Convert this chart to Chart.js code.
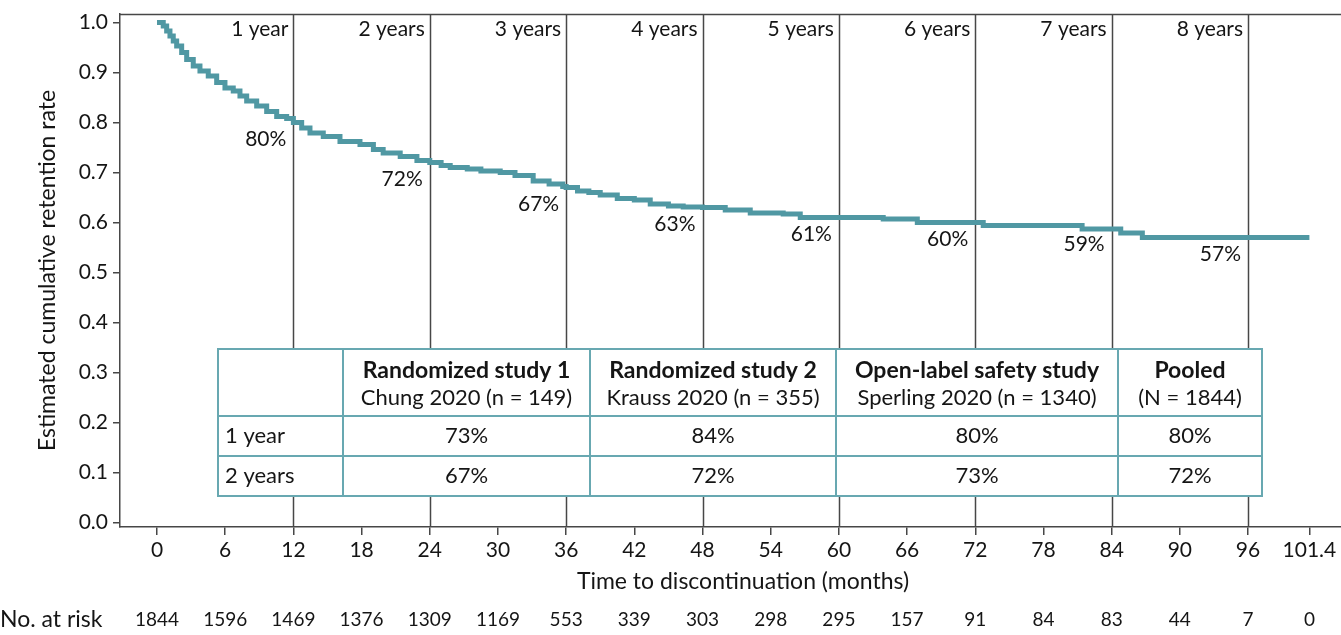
<!DOCTYPE html>
<html>
<head>
<meta charset="utf-8">
<script src="https://cdn.jsdelivr.net/npm/chart.js@4.4.1/dist/chart.umd.min.js"></script>
<style>
  html, body { margin: 0; padding: 0; background: #fff; overflow: hidden; }
  #wrap { width: 1341px; height: 635px; position: relative; overflow: hidden; }
  #km { display: block; }
</style>
</head>
<body>
<div id="wrap"><canvas id="km" width="1366" height="635"></canvas></div>
<script>
// Kaplan-Meier estimate of cumulative retention (pooled, N = 1844)
const months = [0, 0.26, 0.55, 0.85, 1.14, 1.43, 1.73, 2.17, 2.61, 3.19, 3.78, 4.51, 5.25, 5.98, 6.71, 7.30, 7.89,
  8.77, 9.65, 10.53, 11.41, 12.0,
  12.73, 13.46, 14.63, 16.1, 17.86, 19.04, 19.9, 21.4, 22.87, 24.0,
  25.0, 25.8, 27.3, 28.5, 30.2, 31.5, 33.1, 34.5, 35.7, 36.0,
  37.0, 38.0, 39.0, 40.5, 42.0, 43.4, 45.0, 46.3, 48.0,
  50.0, 52.2, 55.1, 56.6, 60.0, 63.9, 66.9, 72.0, 72.7, 81.4, 84.8, 86.7, 96.0, 101.4];
const retention = [1.0, 1.0, 0.993, 0.983, 0.973, 0.963, 0.953, 0.94, 0.926, 0.913, 0.903, 0.893, 0.88, 0.869, 0.863, 0.853, 0.843,
  0.833, 0.822, 0.812, 0.808, 0.80,
  0.789, 0.779, 0.772, 0.762, 0.756, 0.746, 0.739, 0.732, 0.724, 0.72,
  0.714, 0.71, 0.707, 0.703, 0.70, 0.694, 0.683, 0.677, 0.672, 0.67,
  0.663, 0.66, 0.655, 0.648, 0.645, 0.637, 0.633, 0.631, 0.63,
  0.625, 0.619, 0.617, 0.61, 0.61, 0.607, 0.60, 0.60, 0.594, 0.587, 0.579, 0.57, 0.57, 0.57];

// Axis ticks
const xTickValues = [0, 6, 12, 18, 24, 30, 36, 42, 48, 54, 60, 66, 72, 78, 84, 90, 96, 101.4];
const yTickValues = [0, 0.1, 0.2, 0.3, 0.4, 0.5, 0.6, 0.7, 0.8, 0.9, 1.0];

// Number of patients at risk at each x tick
const atRisk = [1844, 1596, 1469, 1376, 1309, 1169, 553, 339, 303, 298, 295, 157, 91, 84, 83, 44, 7, 0];

// Yearly landmarks and the retention estimate at each
const yearMonths = [12, 24, 36, 48, 60, 72, 84, 96];
const yearLabels = ['1 year', '2 years', '3 years', '4 years', '5 years', '6 years', '7 years', '8 years'];
const yearRetentionPct = [80, 72, 67, 63, 61, 60, 59, 57];

// Inset table: retention by study
const studyTitles = ['Randomized study 1', 'Randomized study 2', 'Open-label safety study', 'Pooled'];
const studySubtitles = ['Chung 2020 (n = 149)', 'Krauss 2020 (n = 355)', 'Sperling 2020 (n = 1340)', '(N = 1844)'];
const tableRowLabels = ['1 year', '2 years'];
const oneYearPct = [73, 84, 80, 80];
const twoYearPct = [67, 72, 73, 72];

const FONT = 'Lato, "Open Sans", "DejaVu Sans", sans-serif';
const INK = '#151515';
const AXIS = '#474747';
const CURVE = '#5098a3';
const TABLE_LINE = '#68a8b1';

Chart.defaults.font.family = FONT;
Chart.defaults.color = INK;

const yearLinesPlugin = {
  id: 'yearLines',
  beforeDatasetsDraw(chart) {
    const { ctx, chartArea, scales: { x } } = chart;
    ctx.save();
    ctx.strokeStyle = AXIS;
    ctx.lineWidth = 1.5;
    yearMonths.forEach(m => {
      const px = Math.round(x.getPixelForValue(m)) + 0.5;
      ctx.beginPath();
      ctx.moveTo(px, chartArea.top);
      ctx.lineTo(px, chartArea.bottom);
      ctx.stroke();
    });
    // plot frame: top and right edges
    ctx.beginPath();
    ctx.moveTo(chartArea.left, chartArea.top + 0.5);
    ctx.lineTo(chartArea.right - 0.5, chartArea.top + 0.5);
    ctx.lineTo(chartArea.right - 0.5, chartArea.bottom);
    ctx.stroke();
    ctx.restore();
  }
};

const insetTablePlugin = {
  id: 'insetTable',
  afterDatasetsDraw(chart) {
    const { ctx } = chart;
    const cols = [218, 343, 590, 836, 1118, 1262];
    const rows = [349, 416, 456, 496];
    ctx.save();
    ctx.fillStyle = '#fff';
    ctx.fillRect(cols[0], rows[0], cols[5] - cols[0], rows[3] - rows[0]);
    ctx.strokeStyle = TABLE_LINE;
    ctx.lineWidth = 2;
    ctx.strokeRect(cols[0], rows[0], cols[5] - cols[0], rows[3] - rows[0]);
    ctx.beginPath();
    for (let i = 1; i < cols.length - 1; i++) {
      ctx.moveTo(cols[i], rows[0]);
      ctx.lineTo(cols[i], rows[3]);
    }
    for (let j = 1; j < rows.length - 1; j++) {
      ctx.moveTo(cols[0], rows[j]);
      ctx.lineTo(cols[5], rows[j]);
    }
    ctx.stroke();

    ctx.fillStyle = INK;
    ctx.textBaseline = 'middle';
    ctx.textAlign = 'center';
    for (let i = 0; i < 4; i++) {
      const cx = (cols[i + 1] + cols[i + 2]) / 2;
      ctx.font = 'bold 23px ' + FONT;
      ctx.fillText(studyTitles[i], cx, 371);
      ctx.font = '22px ' + FONT;
      ctx.fillText(studySubtitles[i], cx, 398);
      ctx.fillText(oneYearPct[i] + '%', cx, (rows[1] + rows[2]) / 2);
      ctx.fillText(twoYearPct[i] + '%', cx, (rows[2] + rows[3]) / 2);
    }
    ctx.textAlign = 'left';
    ctx.fillText(tableRowLabels[0], cols[0] + 7, (rows[1] + rows[2]) / 2);
    ctx.fillText(tableRowLabels[1], cols[0] + 7, (rows[2] + rows[3]) / 2);
    ctx.restore();
  }
};

const annotationsPlugin = {
  id: 'annotations',
  afterDraw(chart) {
    const { ctx, chartArea, scales: { x, y } } = chart;
    ctx.save();
    ctx.fillStyle = INK;
    ctx.font = '21px ' + FONT;
    ctx.textBaseline = 'middle';
    ctx.textAlign = 'right';
    yearMonths.forEach((m, i) => {
      const px = x.getPixelForValue(m);
      ctx.fillText(yearLabels[i], px - 5, chartArea.top + 15);
      ctx.fillText(yearRetentionPct[i] + '%', px - 7, y.getPixelForValue(yearRetentionPct[i] / 100) + 17);
    });

    // number at risk row
    const rowY = 620;
    ctx.font = '23px ' + FONT;
    ctx.textAlign = 'left';
    ctx.fillText('No. at risk', 0, rowY);
    ctx.font = '19px ' + FONT;
    ctx.textAlign = 'center';
    xTickValues.forEach((v, i) => {
      ctx.fillText(String(atRisk[i]), x.getPixelForValue(v), rowY);
    });
    ctx.restore();
  }
};

new Chart(document.getElementById('km'), {
  type: 'line',
  data: {
    datasets: [{
      label: 'Pooled',
      data: months.map((m, i) => ({ x: m, y: retention[i] })),
      borderColor: CURVE,
      borderWidth: 5,
      pointRadius: 0,
      stepped: 'before',
      fill: false,
      tension: 0
    }]
  },
  options: {
    responsive: false,
    animation: false,
    devicePixelRatio: 1,
    layout: { padding: { top: 14, right: 0, left: 0, bottom: 0 } },
    plugins: { legend: { display: false }, tooltip: { enabled: false } },
    scales: {
      x: {
        type: 'linear',
        min: -3.256,
        max: 106.38,
        afterBuildTicks: s => { s.ticks = xTickValues.map(v => ({ value: v })); },
        afterFit: s => { s.height = 108; s.paddingLeft = 0; s.paddingRight = 0; },
        ticks: {
          autoSkip: false, maxRotation: 0, padding: 3,
          font: { size: 21 }, color: INK,
          callback: v => String(v)
        },
        grid: { drawOnChartArea: false, drawTicks: true, tickLength: 8, color: AXIS, lineWidth: 1.5 },
        border: { display: true, color: AXIS, width: 1.5 },
        title: {
          display: true, text: 'Time to discontinuation (months)',
          font: { size: 23 }, color: INK, padding: { top: 0, bottom: 40 }
        }
      },
      y: {
        type: 'linear',
        min: -0.009,
        max: 1.017,
        afterBuildTicks: s => { s.ticks = yTickValues.map(v => ({ value: v })); },
        afterFit: s => { s.width = 120; s.paddingTop = 0; s.paddingBottom = 0; },
        ticks: {
          autoSkip: false, padding: 5,
          font: { size: 21 }, color: INK,
          callback: v => Number(v).toFixed(1)
        },
        grid: { drawOnChartArea: false, drawTicks: true, tickLength: 7, color: AXIS, lineWidth: 1.5 },
        border: { display: true, color: AXIS, width: 1.5 },
        title: {
          display: true, text: 'Estimated cumulative retention rate',
          font: { size: 23 }, color: INK, padding: { top: 34, bottom: 0 }
        }
      }
    }
  },
  plugins: [yearLinesPlugin, insetTablePlugin, annotationsPlugin]
});
</script>
</body>
</html>
